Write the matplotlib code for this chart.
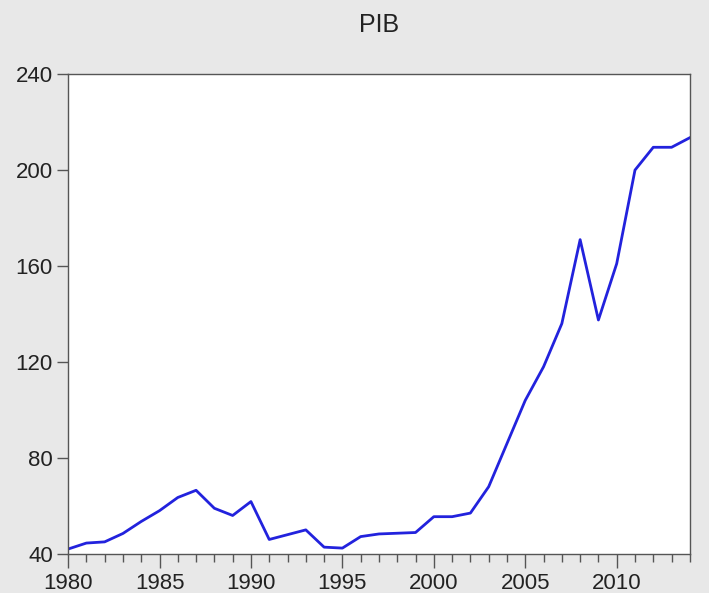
import matplotlib.pyplot as plt
from matplotlib.ticker import MultipleLocator

plt.rcParams['font.family'] = ['Liberation Sans', 'DejaVu Sans']

anios = list(range(1980, 2015))
pib = [42, 44.5, 45, 48.5, 53.5, 58, 63.5, 66.5, 59, 56,
       61.8, 46, 48, 50, 42.8, 42.4, 47.2, 48.3, 48.6, 48.9,
       55.5, 55.5, 57, 68, 86, 104, 118, 136, 171, 137.5,
       161, 200, 209.5, 209.5, 213.5]

fig = plt.figure(figsize=(7.09, 5.93), dpi=100, facecolor='#e8e8e8')
ax = fig.add_axes([0.096, 0.066, 0.877, 0.809])
ax.set_facecolor('white')

ax.plot(anios, pib, color='#2222dd', lw=2)

ax.set_xlim(1980, 2014)
ax.set_ylim(40, 240)
ax.set_yticks([40, 80, 120, 160, 200, 240])
ax.xaxis.set_major_locator(MultipleLocator(5))
ax.xaxis.set_minor_locator(MultipleLocator(1))
ax.tick_params(axis='x', which='major', length=10, width=1, labelsize=16, colors='#555555', labelcolor='#222222', pad=4)
ax.tick_params(axis='x', which='minor', length=6, width=1, colors='#555555')
ax.tick_params(axis='y', length=8, width=1, labelsize=16, colors='#555555', labelcolor='#222222', pad=3)

for s in ax.spines.values():
    s.set_color('#555555')
    s.set_linewidth(1)

fig.text(ax.get_position().x0 + ax.get_position().width / 2, 0.957, 'PIB',
         ha='center', va='center', fontsize=18, color='#222222')

fig.savefig('out.png', dpi=100, facecolor=fig.get_facecolor())
